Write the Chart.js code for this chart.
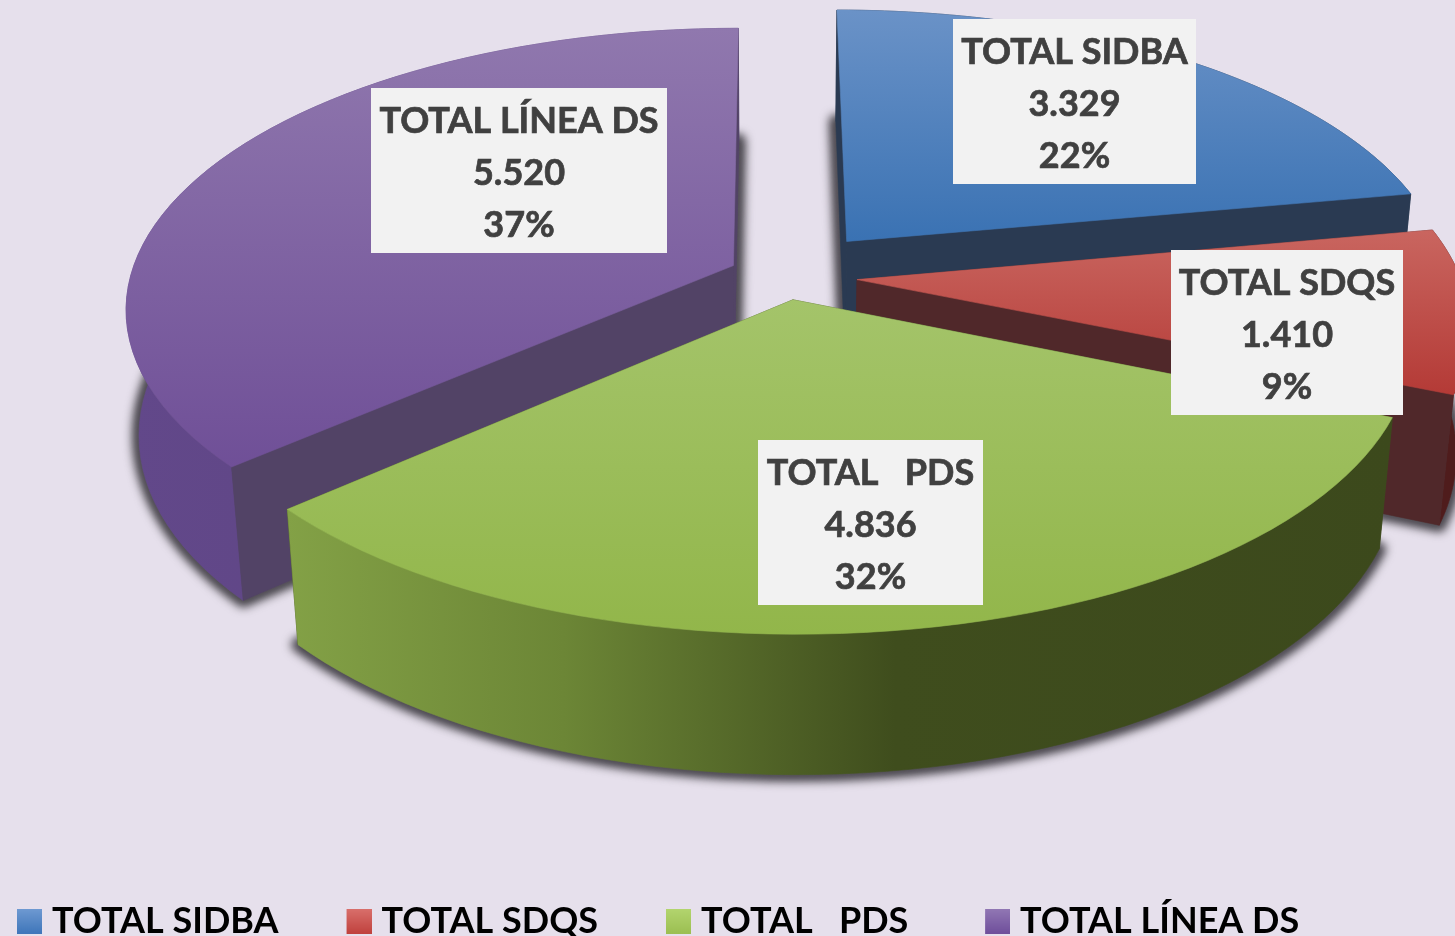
<!DOCTYPE html>
<html>
<head>
<meta charset="utf-8">
<title>Total</title>
<script src="https://cdn.jsdelivr.net/npm/chart.js@4"></script>
<style>
  html, body { margin: 0; height: 936px; overflow: hidden; background: #e6e0ec; }
  #wrap { position: relative; width: 1455px; height: 949px; }
</style>
</head>
<body>
<div id="wrap"><canvas id="chartTotal"></canvas></div>
<script>
const categories = ['TOTAL SIDBA', 'TOTAL SDQS', 'TOTAL   PDS', 'TOTAL LÍNEA DS'];
const values = [3329, 1410, 4836, 5520];

// how far each slice is pulled out of the pie
const explode = [100, 73, 52, 56];

// colours per slice: top face gradient, cut faces, outer wall gradient (by x)
const topColors = [['#6a92c7', '#3a72b3', 12, 240], ['#c9655f', '#b43a36', 232, 395], ['#a4c46a', '#92b64a', 298, 637], ['#9078ae', '#6f4f97', 28, 470]];
const cutColors = ['#2a3a52', '#50282a', '#3d4a1e', '#524366'];
const wallColors = [[[0, '#2a3a52'], [1, '#2a3a52']], [[0, '#4f1c1c'], [1, '#4f1c1c']], [[0, '#83a146'], [0.25, '#6c8636'], [0.55, '#3f4d1d'], [1, '#3c491c']], [[0, '#62488a'], [1, '#5c437f']]];
const legendColors = [['#6f9ad2', '#3f76ba'], ['#d9706c', '#c0423e'], ['#b3d56f', '#9cbf52'], ['#9278b4', '#6f4f9b']];

// white boxes behind the labels: left, top, right, bottom
const labelBoxes = [[953, 19, 1196, 184], [1171, 250, 1403, 415], [758, 440, 983, 605], [371, 88, 667, 253]];

// camera for the tilted pie
const cam = { cx: 771, x0: 0.022, v0: -1552, d: 1828, k: 0.151, m: 0.02, hz: 164, r: 603 };

function project(x, y, z) {
  const w = 1 - cam.k * y + cam.m * z;
  return [cam.cx + cam.r * (x + cam.x0) / w, cam.v0 + (cam.d + cam.hz * z) / w];
}

// arc element -> points of its top (z=0) or bottom (z=1) outline
function sliceGeom(arc, z) {
  const mid = (arc.startAngle + arc.endAngle) / 2;
  const off = arc.options.offset / cam.r;
  const ox = Math.cos(mid) * off, oy = Math.sin(mid) * off;
  const pts = [];
  const n = 60;
  for (let i = 0; i <= n; i++) {
    const a = arc.startAngle + (arc.endAngle - arc.startAngle) * i / n;
    pts.push(project(ox + Math.cos(a), oy + Math.sin(a), z));
  }
  return { apex: project(ox, oy, z), arc: pts };
}

function fillPoly(ctx, pts, style) {
  ctx.beginPath();
  pts.forEach((p, i) => i ? ctx.lineTo(p[0], p[1]) : ctx.moveTo(p[0], p[1]));
  ctx.closePath();
  ctx.fillStyle = style;
  ctx.fill();
  ctx.strokeStyle = style;
  ctx.lineWidth = 0.6;
  ctx.stroke();
}

const pie3d = {
  id: 'pie3d',
  beforeDatasetsDraw(chart) {
    const ctx = chart.ctx;
    const arcs = chart.getDatasetMeta(0).data;
    const order = [3, 0, 1, 2];

    // soft shadow around the bottom faces
    ctx.save();
    ctx.filter = 'blur(5px)';
    order.forEach(i => {
      const b = sliceGeom(arcs[i], 1);
      const pts = [b.apex].concat(b.arc);
      ctx.beginPath();
      pts.forEach((p, j) => j ? ctx.lineTo(p[0], p[1]) : ctx.moveTo(p[0], p[1]));
      ctx.closePath();
      ctx.fillStyle = '#4a474e';
      ctx.strokeStyle = '#4a474e';
      ctx.lineWidth = 14;
      ctx.lineJoin = 'round';
      ctx.fill();
      ctx.stroke();
    });
    ctx.restore();

    order.forEach(i => {
      const arc = arcs[i];
      const t = sliceGeom(arc, 0), b = sliceGeom(arc, 1);
      const cutA = [t.apex, t.arc[0], b.arc[0], b.apex];
      const cutB = [t.apex, t.arc[t.arc.length - 1], b.arc[b.arc.length - 1], b.apex];

      const wallPts = t.arc.concat(b.arc.slice().reverse());
      const xs = wallPts.map(p => p[0]);
      const wall = ctx.createLinearGradient(Math.min(...xs), 0, Math.max(...xs), 0);
      wallColors[i].forEach(c => wall.addColorStop(c[0], c[1]));

      // faces turned away go under the outer wall, the others over it
      const faces = [[cutA, arc.startAngle - Math.PI / 2], [cutB, arc.endAngle + Math.PI / 2]];
      const mid = (arc.startAngle + arc.endAngle) / 2;
      const isFront = f => {
        const ax = Math.cos(mid) * arc.options.offset / cam.r + cam.x0;
        const ay = Math.sin(mid) * arc.options.offset / cam.r;
        return Math.cos(f[1]) * (0 - ax) + Math.sin(f[1]) * (1 / cam.k - ay) > 0;
      };
      faces.filter(f => !isFront(f)).forEach(f => fillPoly(ctx, f[0], cutColors[i]));
      fillPoly(ctx, wallPts, wall);
      faces.filter(isFront).forEach(f => fillPoly(ctx, f[0], cutColors[i]));

      const tc = topColors[i];
      const grad = ctx.createLinearGradient(0, tc[2], 0, tc[3]);
      grad.addColorStop(0, tc[0]);
      grad.addColorStop(1, tc[1]);
      fillPoly(ctx, [t.apex].concat(t.arc), grad);
    });
    return false;
  },
  afterDraw(chart) {
    const ctx = chart.ctx;
    const total = values.reduce((a, b) => a + b, 0);
    ctx.save();
    ctx.textAlign = 'center';
    ctx.textBaseline = 'middle';
    ctx.font = 'bold 36px Lato';
    categories.forEach((name, i) => {
      const box = labelBoxes[i];
      ctx.fillStyle = '#f2f2f2';
      ctx.fillRect(box[0], box[1], box[2] - box[0], box[3] - box[1]);
      const lines = [name, String(values[i]).replace(/\B(?=(\d{3})+$)/g, '.'), Math.round(values[i] / total * 100) + '%'];
      ctx.fillStyle = '#404040';
      ctx.strokeStyle = '#404040';
      ctx.lineWidth = 0.7;
      lines.forEach((txt, j) => {
        ctx.fillText(txt, (box[0] + box[2]) / 2, box[1] + 33 + j * 52);
        ctx.strokeText(txt, (box[0] + box[2]) / 2, box[1] + 33 + j * 52);
      });
    });
    ctx.restore();
  }
};

// the legend centres this image on its symbol, so the square sits right of centre
function legendSwatch(c) {
  const sw = document.createElement('canvas');
  sw.width = 33;
  sw.height = 25;
  const g = sw.getContext('2d');
  const grad = g.createLinearGradient(0, 0, 0, 25);
  grad.addColorStop(0, c[0]);
  grad.addColorStop(1, c[1]);
  g.fillStyle = grad;
  g.fillRect(8, 0, 25, 25);
  return sw;
}

new Chart(document.getElementById('chartTotal'), {
  type: 'pie',
  data: {
    labels: categories,
    datasets: [{
      data: values,
      offset: explode,
      backgroundColor: legendColors.map(c => c[1])
    }]
  },
  plugins: [pie3d],
  options: {
    responsive: true,
    maintainAspectRatio: false,
    animation: false,
    layout: { padding: { left: -51 } },
    plugins: {
      tooltip: { enabled: false },
      legend: {
        position: 'bottom',
        align: 'start',
        labels: {
          color: '#000',
          font: { family: 'Lato', size: 36, weight: 'bold' },
          padding: 68,
          usePointStyle: true,
          pointStyleWidth: 17,
          boxHeight: 17,
          generateLabels: () => categories.map((name, i) => ({
            text: i === 2 ? name + ' ' : name,
            pointStyle: legendSwatch(legendColors[i]),
            fillStyle: legendColors[i][1],
            lineWidth: 0,
            index: i
          }))
        }
      }
    }
  }
});
</script>
</body>
</html>
